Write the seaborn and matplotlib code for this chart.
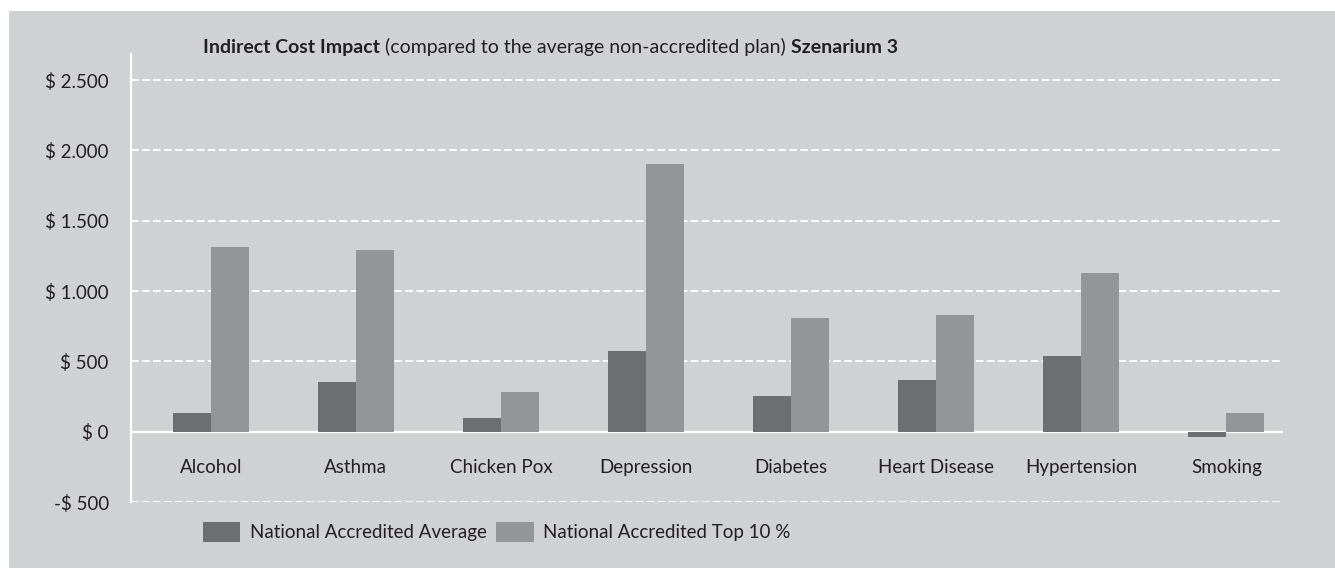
import matplotlib
matplotlib.use('Agg')
import matplotlib.pyplot as plt
from matplotlib.patches import Rectangle, Patch
import seaborn as sns
import pandas as pd

# data (USD)
categories = ['Alcohol', 'Asthma', 'Chicken Pox', 'Depression', 'Diabetes',
              'Heart Disease', 'Hypertension', 'Smoking']
accredited_avg = [130, 350, 100, 575, 255, 365, 540, -40]
accredited_top10 = [1310, 1290, 285, 1905, 805, 830, 1125, 135]
series_names = ['National Accredited Average', 'National Accredited Top 10 %']
y_ticks = [-500, 0, 500, 1000, 1500, 2000, 2500]
y_tick_labels = ['-$ 500', '$ 0', '$ 500', '$ 1.000', '$ 1.500', '$ 2.000', '$ 2.500']

BG = '#d0d1d3'
DARK = '#6d6e71'
LIGHT = '#949599'
TEXT = '#231f20'
FONT = ['Lato', 'DejaVu Sans']
FS = 13.5

sns.set_theme(style='white')
plt.rcParams['font.family'] = FONT
plt.rcParams['lines.scale_dashes'] = False

df = pd.DataFrame({
    'category': categories * 2,
    'value': accredited_avg + accredited_top10,
    'series': [series_names[0]] * len(categories) + [series_names[1]] * len(categories),
})

W, H = 1335, 568
fig = plt.figure(figsize=(W / 100, H / 100), dpi=100, facecolor='white')
fig.patches.append(Rectangle((9 / W, 0), 1 - 9 / W, 1 - 11 / H,
                             transform=fig.transFigure, facecolor=BG,
                             edgecolor='none', zorder=-5))

ax = fig.add_axes([131 / W, (H - 502) / H, (1283 - 131) / W, (502 - 54) / H])
ax.set_facecolor(BG)

sns.barplot(data=df, x='category', y='value', hue='series',
            palette=[DARK, LIGHT], width=0.524, gap=0, saturation=1,
            linewidth=0, edgecolor='none', legend=False, ax=ax, zorder=3)

ax.set_xlim(-0.55, 7.39)
ax.set_ylim(-500, 2685)

# grid: dashed white lines, solid zero line
for t in y_ticks:
    if t == 0:
        ax.axhline(t, color='white', lw=1.6, zorder=2)
    else:
        ax.axhline(t, color='white', lw=1.3, dashes=(5.5, 2.4), zorder=1)

ax.set_yticks(y_ticks)
ax.set_yticklabels(y_tick_labels, fontsize=FS, color=TEXT)
ax.tick_params(axis='y', length=0, pad=16)
ax.set_xticks([])
ax.set_xlabel('')
ax.set_ylabel('')

for s in ['top', 'right', 'bottom']:
    ax.spines[s].set_visible(False)
ax.spines['left'].set_color('white')
ax.spines['left'].set_linewidth(1.6)

for i, cat in enumerate(categories):
    ax.text(i, -255, cat, ha='center', va='center', fontsize=FS, color=TEXT)

# title with bold / regular parts
fig.canvas.draw()
renderer = fig.canvas.get_renderer()
x = 203 / W
y = 1 - 53 / H
parts = [('Indirect Cost Impact', 'bold'),
         (' (compared to the average non-accredited plan) ', 'normal'),
         ('Szenarium 3', 'bold')]
for txt, wt in parts:
    t = fig.text(x, y, txt, fontsize=14, fontweight=wt, color=TEXT,
                 ha='left', va='baseline')
    bb = t.get_window_extent(renderer=renderer)
    x += bb.width / W

handles = [Patch(facecolor=DARK, edgecolor='none'),
           Patch(facecolor=LIGHT, edgecolor='none')]
fig.legend(handles, series_names, ncol=2, frameon=False,
           loc='center left', bbox_to_anchor=(203 / W, 1 - 532 / H),
           borderpad=0, borderaxespad=0, fontsize=FS,
           handlelength=2.0, handleheight=1.22, handletextpad=0.5,
           columnspacing=0.5, labelcolor=TEXT)

fig.savefig('out.png', dpi=100, facecolor='white')
